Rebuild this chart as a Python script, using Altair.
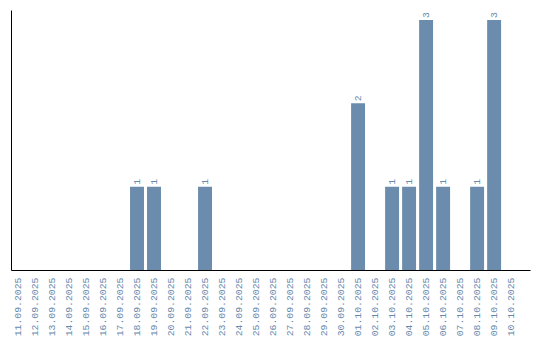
import altair as alt
import pandas as pd

dates = ["11.09.2025", "12.09.2025", "13.09.2025", "14.09.2025", "15.09.2025",
         "16.09.2025", "17.09.2025", "18.09.2025", "19.09.2025", "20.09.2025",
         "21.09.2025", "22.09.2025", "23.09.2025", "24.09.2025", "25.09.2025",
         "26.09.2025", "27.09.2025", "28.09.2025", "29.09.2025", "30.09.2025",
         "01.10.2025", "02.10.2025", "03.10.2025", "04.10.2025", "05.10.2025",
         "06.10.2025", "07.10.2025", "08.10.2025", "09.10.2025", "10.10.2025"]
counts = [0, 0, 0, 0, 0, 0, 0, 1, 1, 0,
          0, 1, 0, 0, 0, 0, 0, 0, 0, 0,
          2, 0, 1, 1, 3, 1, 0, 1, 3, 0]

df = pd.DataFrame({"date": dates, "count": counts})
nonzero = df[df["count"] > 0]

BAR = "#6b8cac"
TXT = "#6688ad"
FONT = "Liberation Mono"

x = alt.X("date:N", sort=dates, title=None,
          scale=alt.Scale(paddingInner=0.18, paddingOuter=0.35, align=0),
          axis=alt.Axis(labelAngle=-90, labelColor=TXT, labelFont=FONT, labelFontSize=9.8,
                        ticks=False, labelPadding=7, domainColor="black", domainWidth=1,
                        labelAlign="right", labelBaseline="middle"))
y = alt.Y("count:Q", title=None,
          scale=alt.Scale(domain=[0, 3.12], nice=False),
          axis=alt.Axis(labels=False, ticks=False, grid=False, domainColor="black", domainWidth=1))

bars = alt.Chart(df).mark_bar(color=BAR).encode(x=x, y=y)
labels = alt.Chart(nonzero).mark_text(angle=270, align="left", baseline="middle", dx=2,
                                      color=TXT, font=FONT, fontSize=9.8).encode(
    x=alt.X("date:N", sort=dates), y="count:Q", text="count:Q")

chart = (bars + labels).properties(
    width=519, height=260,
    autosize=alt.AutoSizeParams(type="none"),
    padding={"left": 11, "top": 10, "right": 10, "bottom": 70},
).configure(background="white", view=alt.ViewConfig(stroke=None))

chart.save("out.html", embed_options={"renderer": "svg", "actions": False})
